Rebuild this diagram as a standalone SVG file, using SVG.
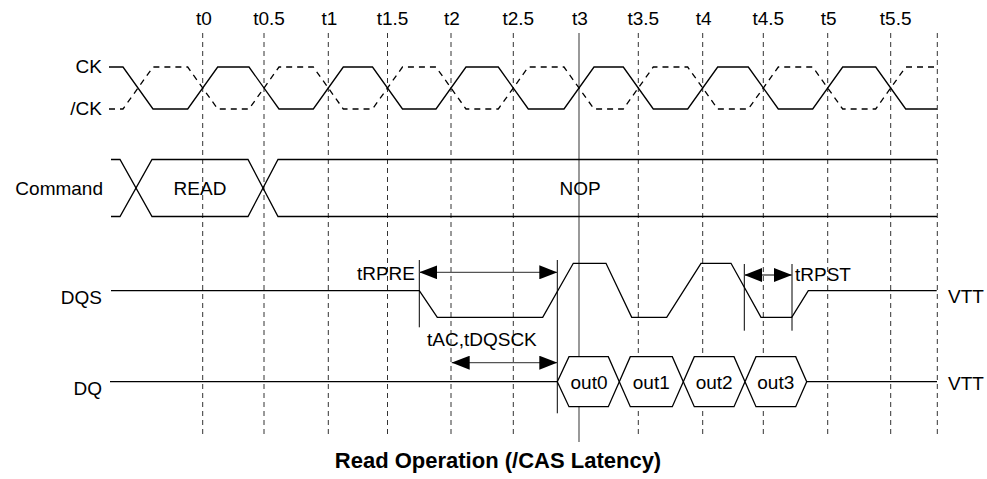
<svg xmlns="http://www.w3.org/2000/svg" width="987" height="479" viewBox="0 0 987 479">
<style>
text{font-family:"Liberation Sans",Arial,sans-serif;font-size:19px;fill:#000}
.tl{text-anchor:middle}
.r{text-anchor:end}
.grid{stroke:#333;stroke-width:1;stroke-dasharray:5,4;fill:none}
.w{stroke:#000;stroke-width:1.3;fill:none}
.wd{stroke:#000;stroke-width:1.3;fill:none;stroke-dasharray:6,5}
.m{stroke:#000;stroke-width:1;fill:none}
.arr{stroke:#555;stroke-width:1.3;fill:none;marker-start:url(#ah);marker-end:url(#ah)}
.hex{stroke:#000;stroke-width:1.3;fill:#fff}
.title{font-weight:bold;font-size:22px;text-anchor:middle}
</style>
<defs>
<marker id="ah" markerUnits="userSpaceOnUse" markerWidth="18" markerHeight="14" refX="18" refY="7" orient="auto-start-reverse">
<path d="M0,0 L18,7 L0,14 z" fill="#000"/>
</marker>
</defs>
<rect width="987" height="479" fill="#fff"/>
<g id="grid">
<line class="grid" x1="202.7" y1="33" x2="202.7" y2="437"/>
<line class="grid" x1="264" y1="33" x2="264" y2="437"/>
<line class="grid" x1="328.3" y1="33" x2="328.3" y2="437"/>
<line class="grid" x1="387.5" y1="33" x2="387.5" y2="437"/>
<line class="grid" x1="451" y1="33" x2="451" y2="437"/>
<line class="grid" x1="513.3" y1="33" x2="513.3" y2="437"/>
<line class="grid" x1="638.3" y1="33" x2="638.3" y2="437"/>
<line class="grid" x1="702.7" y1="33" x2="702.7" y2="437"/>
<line class="grid" x1="763.3" y1="33" x2="763.3" y2="437"/>
<line class="grid" x1="827.7" y1="33" x2="827.7" y2="437"/>
<line class="grid" x1="890.7" y1="33" x2="890.7" y2="437"/>
<line class="grid" x1="937.3" y1="33" x2="937.3" y2="437"/>
<line x1="579" y1="33" x2="579" y2="442" stroke="#808080" stroke-width="1.6"/>
</g>
<g id="timelabels">
<text class="tl" x="204" y="25">t0</text>
<text class="tl" x="269" y="25">t0.5</text>
<text class="tl" x="329.5" y="25">t1</text>
<text class="tl" x="392.5" y="25">t1.5</text>
<text class="tl" x="452" y="25">t2</text>
<text class="tl" x="518.3" y="25">t2.5</text>
<text class="tl" x="580" y="25">t3</text>
<text class="tl" x="643.3" y="25">t3.5</text>
<text class="tl" x="703.7" y="25">t4</text>
<text class="tl" x="768.3" y="25">t4.5</text>
<text class="tl" x="828.7" y="25">t5</text>
<text class="tl" x="895.7" y="25">t5.5</text>
</g>
<g id="ck">
<text class="r" x="102" y="73">CK</text>
<path class="w" d="M109,67 H123 L153,109 H187.7 L217.7,67 H249 L279,109 H313.3 L343.3,67 H372.5 L402.5,109 H436 L466,67 H498.3 L528.3,109 H564 L594,67 H623.3 L653.3,109 H687.7 L717.7,67 H748.3 L778.3,109 H812.7 L842.7,67 H875.7 L905.7,109 H937"/>
</g>
<g id="ckb">
<text class="r" x="102" y="115">/CK</text>
<path class="wd" d="M109,109 H123 L153,67 H187.7 L217.7,109 H249 L279,67 H313.3 L343.3,109 H372.5 L402.5,67 H436 L466,109 H498.3 L528.3,67 H564 L594,109 H623.3 L653.3,67 H687.7 L717.7,109 H748.3 L778.3,67 H812.7 L842.7,109 H875.7 L905.7,67 H937"/>
</g>
<g id="command">
<text class="r" x="103" y="195">Command</text>
<path class="w" d="M111,159.5 H120 L152,216.5 H248 L278,159.5 H937"/>
<path class="w" d="M111,216.5 H120 L152,159.5 H248 L278,216.5 H937"/>
<text class="tl" x="200" y="195">READ</text>
<text class="tl" x="580" y="195">NOP</text>
</g>
<g id="dqs">
<text class="r" x="102" y="304">DQS</text>
<path class="w" d="M111,290.7 H419.3 L437.3,317.3 H542.7 L573.3,263.3 H606 L631.7,317.3 H666.7 L701,263.3 H731 L761,317.3 H791.7 L808.3,290.7 H936.7"/>
<text x="948" y="303">VTT</text>
</g>
<g id="dq">
<text class="r" x="102" y="395">DQ</text>
<path class="w" d="M110,381.7 H557.3 M806.7,381.7 H937"/>
<polygon class="hex" points="557.3,381.7 569,356.7 608.3,356.7 619.3,381.7 608.3,406.7 569,406.7"/>
<polygon class="hex" points="619.3,381.7 630.3,356.7 672.3,356.7 683.3,381.7 672.3,406.7 630.3,406.7"/>
<polygon class="hex" points="683.3,381.7 694.3,356.7 734,356.7 745,381.7 734,406.7 694.3,406.7"/>
<polygon class="hex" points="745,381.7 756,356.7 795.7,356.7 806.7,381.7 795.7,406.7 756,406.7"/>
<text class="tl" x="589" y="388.5">out0</text>
<text class="tl" x="651.3" y="388.5">out1</text>
<text class="tl" x="714.2" y="388.5">out2</text>
<text class="tl" x="775.8" y="388.5">out3</text>
<text x="948" y="390">VTT</text>
</g>
<g id="connectors">
<line class="m" x1="419.3" y1="260" x2="419.3" y2="327.3"/>
<line class="m" x1="557.3" y1="260" x2="557.3" y2="413.3"/>
<line class="m" x1="744.3" y1="264" x2="744.3" y2="330.7"/>
<line class="m" x1="792" y1="264" x2="792" y2="330.7"/>
<line class="arr" x1="419.3" y1="272.3" x2="557.3" y2="272.3"/>
<line class="arr" x1="451.7" y1="362.7" x2="557.3" y2="362.7"/>
<line class="arr" x1="744.3" y1="275" x2="792" y2="275"/>
<text class="r" x="415" y="280">tRPRE</text>
<text x="427" y="346">tAC,tDQSCK</text>
<text x="795" y="281">tRPST</text>
</g>
<text class="title" x="498" y="468">Read Operation (/CAS Latency)</text>
</svg>
